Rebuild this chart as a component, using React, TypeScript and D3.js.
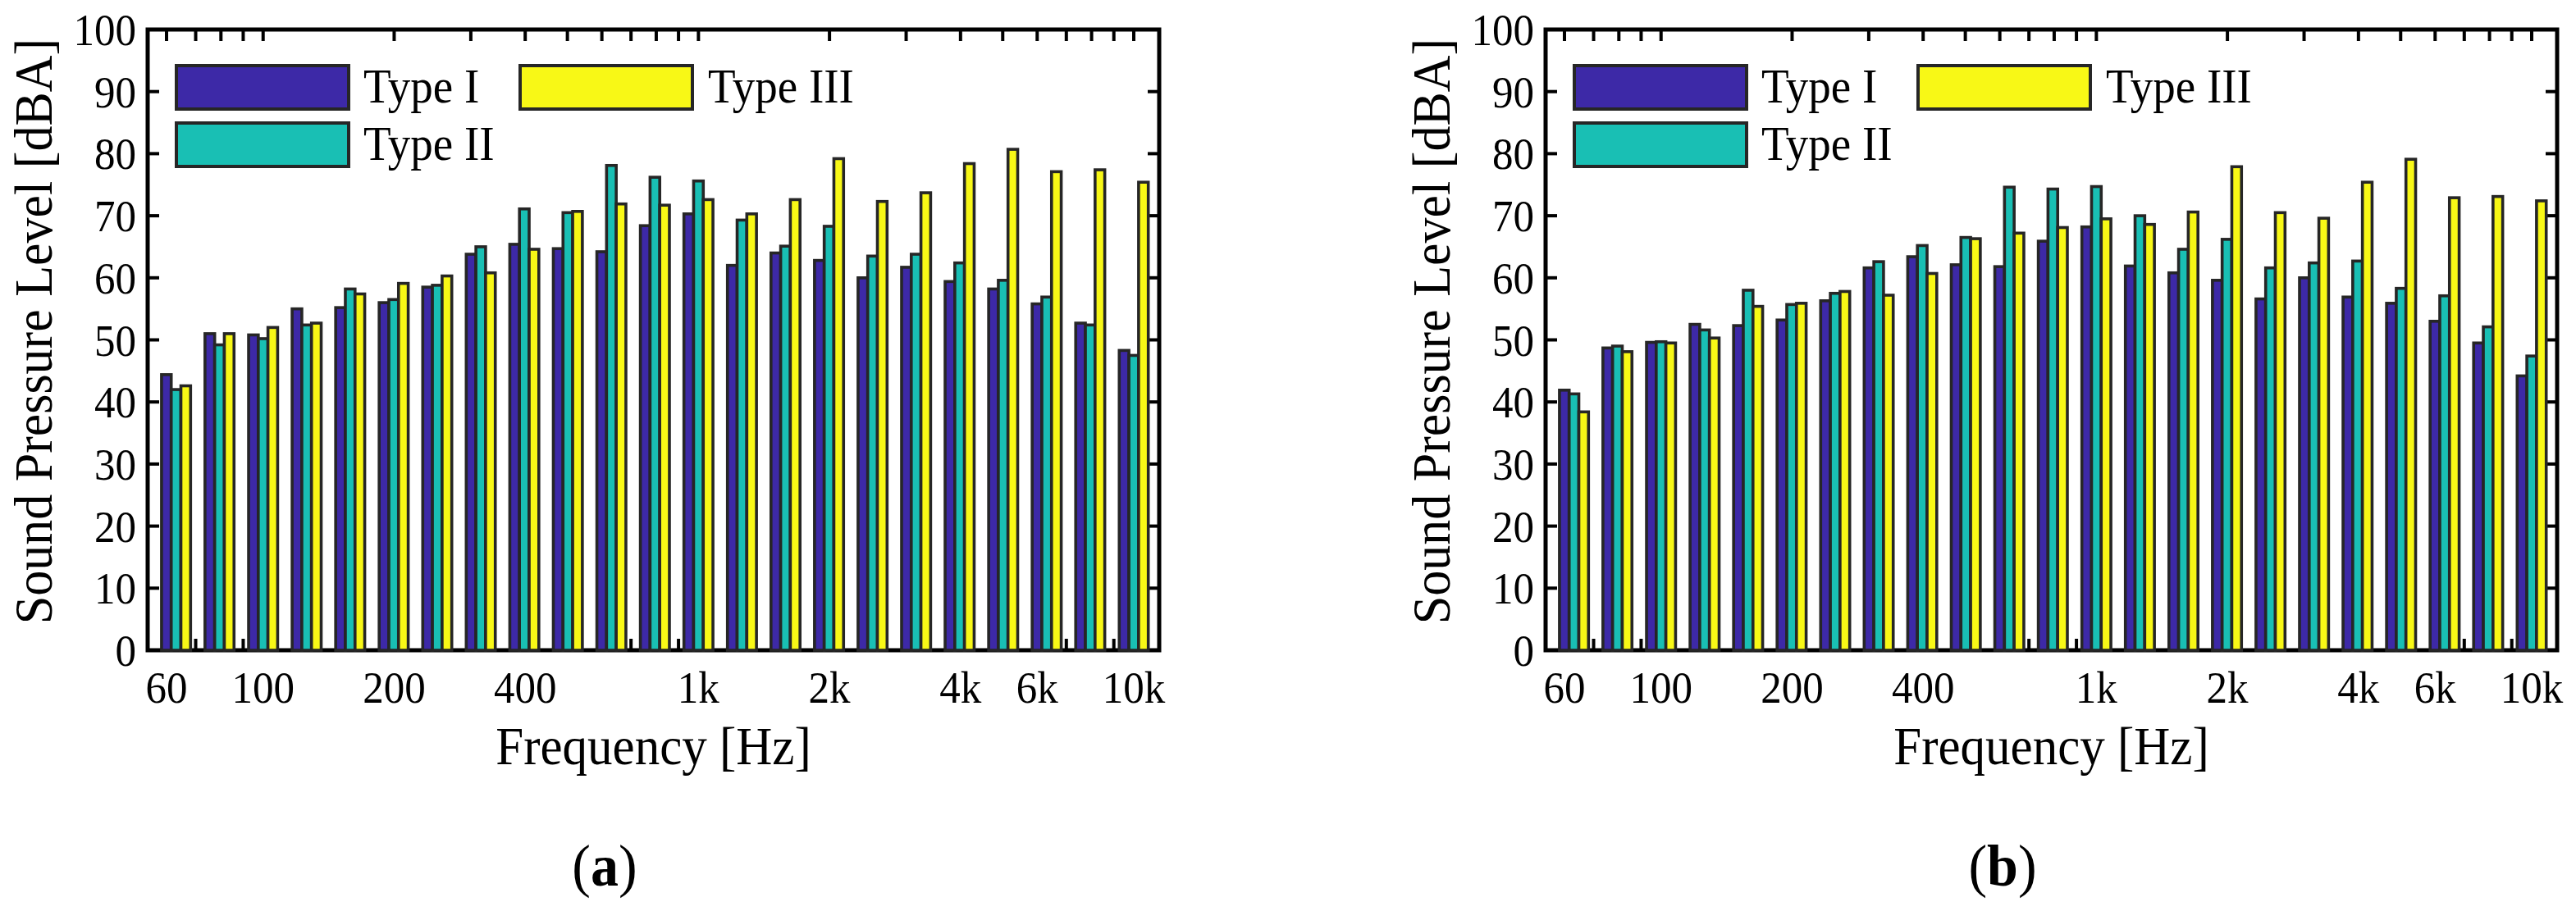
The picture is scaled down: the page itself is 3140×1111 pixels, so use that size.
import React, { useEffect, useRef } from 'react';
import * as d3 from 'd3';

// 1/3-octave band centre frequencies [Hz]
const bandCenters = [63.1, 79.4, 100, 125.9, 158.5, 199.5, 251.2, 316.2, 398.1, 501.2, 631.0, 794.3, 1000, 1258.9, 1584.9, 1995.3, 2511.9, 3162.3, 3981.1, 5011.9, 6309.6, 7943.3, 10000];

const seriesNames = ['Type I', 'Type II', 'Type III'];

// Panel (a)
const typeIA = [44.4, 51.0, 50.8, 55.0, 55.2, 56.0, 58.5, 63.8, 65.4, 64.7, 64.2, 68.4, 70.3, 62.0, 64.0, 62.8, 60.0, 61.7, 59.4, 58.2, 55.8, 52.7, 48.3];
const typeIIA = [42.0, 49.2, 50.2, 52.4, 58.2, 56.5, 58.8, 65.0, 71.1, 70.5, 78.1, 76.2, 75.6, 69.3, 65.1, 68.3, 63.5, 63.8, 62.4, 59.6, 56.9, 52.4, 47.5];
const typeIIIA = [42.6, 51.0, 52.0, 52.7, 57.4, 59.1, 60.3, 60.8, 64.6, 70.7, 71.9, 71.7, 72.6, 70.3, 72.6, 79.2, 72.3, 73.7, 78.4, 80.7, 77.1, 77.4, 75.4];

// Panel (b)
const typeIB = [41.9, 48.7, 49.6, 52.5, 52.3, 53.2, 56.3, 61.6, 63.4, 62.1, 61.8, 65.9, 68.2, 61.9, 60.8, 59.6, 56.6, 60.0, 56.9, 55.9, 53.0, 49.5, 44.2];
const typeIIB = [41.3, 49.0, 49.7, 51.6, 58.0, 55.7, 57.5, 62.6, 65.2, 66.5, 74.6, 74.3, 74.7, 70.0, 64.6, 66.2, 61.6, 62.4, 62.7, 58.3, 57.1, 52.1, 47.4];
const typeIIIB = [38.4, 48.1, 49.5, 50.3, 55.4, 55.9, 57.8, 57.2, 60.7, 66.3, 67.2, 68.1, 69.5, 68.6, 70.6, 77.9, 70.5, 69.6, 75.4, 79.1, 72.9, 73.1, 72.4];

const xTickValues = [60, 100, 200, 400, 1000, 2000, 4000, 6000, 10000];
const xTickLabels = ['60', '100', '200', '400', '1k', '2k', '4k', '6k', '10k'];
const yTickValues = [0, 10, 20, 30, 40, 50, 60, 70, 80, 90, 100];
const xDomain = [54.3, 11440];
const yDomain = [0, 100];

const W = 3140;
const H = 1111;
const FONT = '"Liberation Serif", "Times New Roman", Times, serif';
const COLORS = ['#3D29A7', '#19BFB4', '#F8F816'];
const EDGE = '#262626';
const STRETCH = 1.06;

export default function App() {
  const ref = useRef<SVGSVGElement>(null);

  useEffect(() => {
    const svg = d3.select(ref.current);
    svg.selectAll('*').remove();
    svg.append('rect').attr('width', W).attr('height', H).attr('fill', '#ffffff');

    const panels = [
      { data: [typeIA, typeIIA, typeIIIA], label: 'a', dx: 0 },
      { data: [typeIB, typeIIB, typeIIIB], label: 'b', dx: 1704 },
    ];

    const left = 180, right = 1413, top = 36, bottom = 793;
    const tickLen = 14;
    const bw = 11.8;

    const txt = (g: any, x: number, y: number, size: number, anchor: string, content: string, rotate = 0) =>
      g.append('text')
        .attr('transform', `translate(${x},${y}) rotate(${rotate}) scale(1,${STRETCH})`)
        .attr('text-anchor', anchor)
        .attr('font-family', FONT)
        .attr('font-size', size)
        .attr('fill', '#000')
        .text(content);

    panels.forEach((p) => {
      const g = svg.append('g').attr('transform', `translate(${p.dx},0)`);
      const x = d3.scaleLog().domain(xDomain).range([left, right]);
      const y = d3.scaleLinear().domain(yDomain).range([bottom, top]);

      // ticks (drawn under bars)
      const minor = x.ticks();
      const tg = g.append('g').attr('stroke', '#000').attr('stroke-width', 4);
      minor.forEach((t) => {
        tg.append('line').attr('x1', x(t)).attr('x2', x(t)).attr('y1', top).attr('y2', top + tickLen);
        tg.append('line').attr('x1', x(t)).attr('x2', x(t)).attr('y1', bottom).attr('y2', bottom - tickLen);
      });
      yTickValues.forEach((t) => {
        tg.append('line').attr('x1', left).attr('x2', left + tickLen).attr('y1', y(t)).attr('y2', y(t));
        tg.append('line').attr('x1', right).attr('x2', right - tickLen).attr('y1', y(t)).attr('y2', y(t));
      });

      // axes box
      g.append('rect')
        .attr('x', left).attr('y', top)
        .attr('width', right - left).attr('height', bottom - top)
        .attr('fill', 'none').attr('stroke', '#000').attr('stroke-width', 5);

      // bars
      p.data.forEach((series, s) => {
        g.append('g').selectAll('rect')
          .data(series)
          .join('rect')
          .attr('x', (_d, i) => x(bandCenters[i]) + (s - 1) * bw - bw / 2)
          .attr('y', (d) => y(d))
          .attr('width', bw)
          .attr('height', (d) => y(0) - y(d))
          .attr('fill', COLORS[s])
          .attr('stroke', EDGE)
          .attr('stroke-width', 3.6);
      });

      // y tick labels
      yTickValues.forEach((v) => {
        txt(g, left - 14, y(v) + 19, 51, 'end', String(v));
      });

      // x tick labels
      xTickValues.forEach((v, i) => {
        txt(g, x(v), 857, 51, 'middle', xTickLabels[i]);
      });

      // axis titles
      txt(g, (left + right) / 2, 932, 61, 'middle', 'Frequency [Hz]');
      txt(g, 63, 404, 62, 'middle', 'Sound Pressure Level [dBA]', -90);

      // panel label
      const pl = g.append('text')
        .attr('transform', `translate(737,1080) scale(1,${STRETCH})`)
        .attr('text-anchor', 'middle')
        .attr('font-family', FONT)
        .attr('font-size', 68)
        .attr('fill', '#000');
      pl.append('tspan').text('(');
      pl.append('tspan').attr('font-weight', 'bold').text(p.label);
      pl.append('tspan').text(')');

      // legend
      const legendItems = [
        { px: 215, py: 80, tx: 443, ty: 125 },
        { px: 215, py: 150, tx: 443, ty: 195 },
        { px: 634, py: 80, tx: 863, ty: 125 },
      ];
      legendItems.forEach((it, s) => {
        g.append('rect')
          .attr('x', it.px).attr('y', it.py)
          .attr('width', 210).attr('height', 53)
          .attr('fill', COLORS[s]).attr('stroke', EDGE).attr('stroke-width', 4);
        txt(g, it.tx, it.ty, 55, 'start', seriesNames[s]);
      });
    });
  }, []);

  return (
    <svg
      ref={ref}
      width={W}
      height={H}
      viewBox={`0 0 ${W} ${H}`}
      style={{ position: 'absolute', left: 0, top: 0, display: 'block' }}
    />
  );
}
